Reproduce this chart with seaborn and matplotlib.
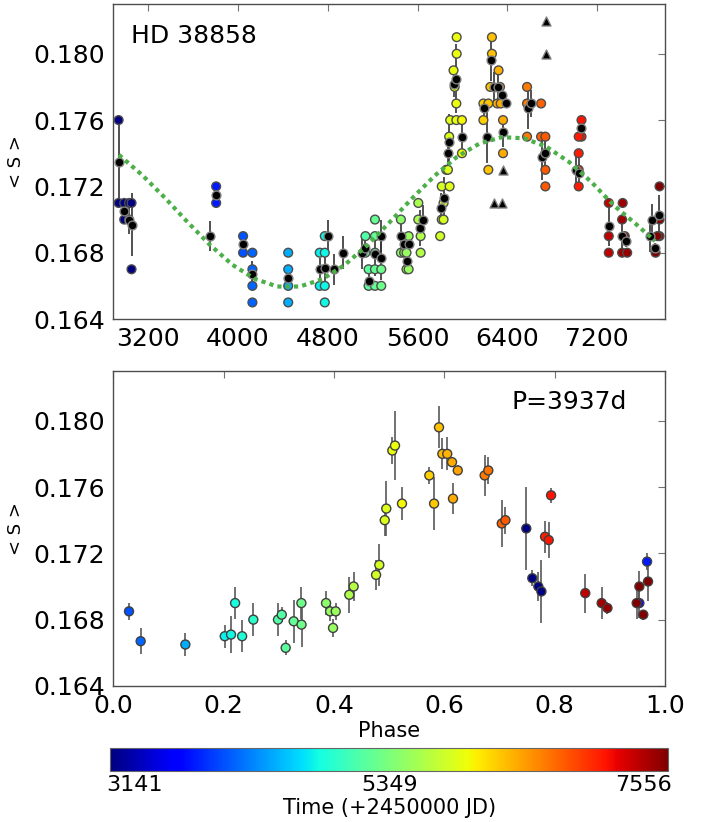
import numpy as np
import pandas as pd
import matplotlib
matplotlib.use("Agg")
import matplotlib.pyplot as plt
import seaborn as sns
from matplotlib.colors import Normalize
from matplotlib.cm import ScalarMappable

# ---- activity-cycle data for HD 38858 (time in JD - 2450000) ----
# nightly means with uncertainties
mean_t = [2943, 2986, 3029, 3051, 3750, 3805, 4045, 4128, 4447, 4728, 4773, 4802,
          4852, 4932, 5108, 5135, 5163, 5220, 5275, 5276, 5451, 5480, 5501, 5520,
          5617, 5648, 5808, 5831, 5870, 5881, 5924, 5943, 5993, 6188, 6222, 6257,
          6281, 6316, 6350, 6357, 6391, 6583, 6609, 6705, 6731, 7014, 7040, 7057,
          7301, 7418, 7459, 7668, 7687, 7715, 7749]
mean_s = [0.1735, 0.1705, 0.1700, 0.1697, 0.1690, 0.1715, 0.1685, 0.1667, 0.1665,
          0.1670, 0.1671, 0.1690, 0.1670, 0.1680, 0.1680, 0.1683, 0.1663, 0.1679,
          0.1690, 0.1677, 0.1690, 0.1685, 0.1675, 0.1685, 0.1695, 0.1700, 0.1707,
          0.1713, 0.1740, 0.1747, 0.1782, 0.1785, 0.1750, 0.1767, 0.1750, 0.1796,
          0.1780, 0.1780, 0.1775, 0.1753, 0.1770, 0.1767, 0.1770, 0.1738, 0.1740,
          0.1730, 0.1728, 0.1755, 0.1696, 0.1690, 0.1687, 0.1690, 0.1700, 0.1683,
          0.1703]
mean_err = [0.0025, 0.0005, 0.0009, 0.0019, 0.0009, 0.0005, 0.0005, 0.0008, 0.0007,
            0.0007, 0.0011, 0.00095, 0.00095, 0.001, 0.001, 0.00045, 0.00045, 0.0013,
            0.00095, 0.00135, 0.00073, 0.0006, 0.00052, 0.0005, 0.0011, 0.0009,
            0.0009, 0.00125, 0.00095, 0.00165, 0.0008, 0.0021, 0.001, 0.0005, 0.0016,
            0.00126, 0.00093, 0.001, 0.0003, 0.00095, 0.0003, 0.00123, 0.0008,
            0.00142, 0.00082, 0.00095, 0.00108, 0.00046, 0.00117, 0.00098, 0.00035,
            0.00095, 0.00093, 0.0003, 0.0012]

# individual measurements
obs_t = [2936, 2936, 2986, 2986, 3029, 3029, 3051, 3051,
         3805, 3805,
         4045, 4045, 4128, 4128, 4128, 4128,
         4447, 4447, 4447, 4447,
         4728, 4728, 4773, 4773, 4773, 4773,
         5135, 5135, 5163, 5163, 5220, 5220, 5220, 5220, 5220, 5276, 5276,
         5451, 5451, 5480, 5501, 5501, 5520, 5520, 5606, 5606, 5627, 5627,
         5801, 5815, 5831, 5831, 5815, 5885, 5855, 5870, 5881, 5890, 5945, 5995,
         5995, 5945, 5930, 5920, 5948, 5948,
         6186, 6186, 6230, 6230, 6262, 6262, 6248, 6321, 6334, 6310, 6340, 6361, 6361,
         6575, 6575, 6575, 6700, 6700, 6738, 6738, 6738, 6738,
         7060, 7060, 7035, 7035, 7035, 7035,
         7303, 7303, 7303, 7427, 7422, 7445, 7422, 7467,
         7755, 7755, 7755, 7735, 7720]
obs_s = [0.176, 0.171, 0.171, 0.170, 0.171, 0.170, 0.171, 0.167,
         0.172, 0.171,
         0.169, 0.168, 0.168, 0.167, 0.166, 0.165,
         0.168, 0.167, 0.166, 0.165,
         0.168, 0.166, 0.169, 0.168, 0.166, 0.165,
         0.169, 0.168, 0.167, 0.166, 0.170, 0.169, 0.168, 0.167, 0.166, 0.167, 0.166,
         0.170, 0.168, 0.168, 0.168, 0.167, 0.169, 0.167, 0.171, 0.170, 0.169, 0.168,
         0.169, 0.170, 0.170, 0.171, 0.172, 0.172, 0.173, 0.173, 0.175, 0.176, 0.176, 0.176,
         0.174, 0.177, 0.178, 0.179, 0.180, 0.181,
         0.177, 0.176, 0.177, 0.173, 0.181, 0.180, 0.178, 0.179, 0.178, 0.177, 0.177, 0.176, 0.174,
         0.178, 0.177, 0.175, 0.177, 0.175, 0.175, 0.174, 0.173, 0.172,
         0.176, 0.175, 0.175, 0.174, 0.173, 0.172,
         0.171, 0.169, 0.168, 0.171, 0.170, 0.169, 0.168, 0.168,
         0.172, 0.170, 0.169, 0.169, 0.168]

# rejected points
rej_t = [6278, 6353, 6361, 6744, 6744]
rej_s = [0.171, 0.171, 0.173, 0.182, 0.180]

# sinusoidal cycle fit
fit_t = [2939, 3150, 3350, 3550, 3750, 3950, 4150, 4350, 4550, 4750, 4950, 5150,
         5350, 5550, 5750, 5950, 6150, 6350, 6550, 6750, 6950, 7150, 7350, 7550, 7715]
fit_s = [0.17390, 0.17266, 0.17130, 0.16985, 0.16847, 0.16727, 0.16642, 0.16596,
         0.16596, 0.16640, 0.16726, 0.16844, 0.16983, 0.17127, 0.17263, 0.17378,
         0.17458, 0.17497, 0.17490, 0.17438, 0.17347, 0.17225, 0.17084, 0.16970,
         0.16870]

PERIOD = 3937
T0 = 3933
T_MIN, T_MID, T_MAX = 3141, 5349, 7556

means = pd.DataFrame({"t": mean_t, "s": mean_s, "err": mean_err})
means["phase"] = ((means["t"] - T0) / PERIOD) % 1.0
obs = pd.DataFrame({"t": obs_t, "s": obs_s})
rej = pd.DataFrame({"t": rej_t, "s": rej_s})
fit = pd.DataFrame({"t": fit_t, "s": fit_s})

sns.set_style("white")
plt.rcParams["font.family"] = ["DejaVu Sans"]
plt.rcParams["text.color"] = "black"
plt.rcParams["axes.labelcolor"] = "black"

jet = matplotlib.colormaps["jet"]
norm = Normalize(vmin=T_MIN, vmax=T_MAX)

fig = plt.figure(figsize=(7.07, 8.22), dpi=100)
ax1 = fig.add_axes([0.1603, 0.6119, 0.7803, 0.3832])
ax2 = fig.add_axes([0.1603, 0.1655, 0.7803, 0.3832])
cax = fig.add_axes([0.1556, 0.0620, 0.7897, 0.0284])

# ---- time series ----
ax1.errorbar(means["t"], means["s"], yerr=means["err"], fmt="none",
             ecolor="0.2", elinewidth=1.2, zorder=2)
sns.scatterplot(data=obs, x="t", y="s", hue="t", palette=jet,
                hue_norm=norm, legend=False, s=40,
                edgecolor="0.3", linewidth=1.0, zorder=3, ax=ax1)
sns.scatterplot(data=means, x="t", y="s", color="black", s=40,
                edgecolor="0.5", linewidth=1.0, zorder=4, ax=ax1)
sns.scatterplot(data=rej, x="t", y="s", color="black", marker="^", s=42,
                edgecolor="0.5", linewidth=1.0, zorder=4, ax=ax1)
sns.lineplot(data=fit, x="t", y="s", color="#4daf4a", linewidth=3.0,
             zorder=5, ax=ax1)
ax1.lines[-1].set_dashes((1.0, 1.0))

ax1.set_xlim(2889, 7804)
ax1.set_ylim(0.164, 0.183)
ax1.set_xticks([3200, 4000, 4800, 5600, 6400, 7200])
ax1.text(0.0315, 0.90, "HD 38858", transform=ax1.transAxes, fontsize=18,
         ha="left", va="center")

# ---- phase-folded ----
ax2.errorbar(means["phase"], means["s"], yerr=means["err"], fmt="none",
             ecolor="0.35", elinewidth=1.2, zorder=2)
sns.scatterplot(data=means, x="phase", y="s", hue="t", palette=jet,
                hue_norm=norm, legend=False, s=42,
                edgecolor="0.25", linewidth=1.0, zorder=3, ax=ax2)
ax2.set_xlim(0.0, 1.0)
ax2.set_ylim(0.164, 0.183)
ax2.set_xticks([0.0, 0.2, 0.4, 0.6, 0.8, 1.0])
ax2.text(0.722, 0.90, "P=%dd" % PERIOD, transform=ax2.transAxes, fontsize=18,
         ha="left", va="center")

for ax in (ax1, ax2):
    ax.set_yticks([0.164, 0.168, 0.172, 0.176, 0.180])
    ax.yaxis.set_major_formatter(matplotlib.ticker.FormatStrFormatter("%.3f"))
    ax.tick_params(direction="in", length=5, width=0.8, color="0.45",
                   labelcolor="black", labelsize=18, top=True, right=True, pad=6)
    for sp in ax.spines.values():
        sp.set_color("0.3")
        sp.set_linewidth(1.0)
    ax.set_ylabel("< S >", fontsize=13, labelpad=6)
ax1.set_xlabel("")
ax2.set_xlabel("Phase", fontsize=15, labelpad=2)

# ---- colour bar ----
sm = ScalarMappable(norm=norm, cmap=jet)
cb = fig.colorbar(sm, cax=cax, orientation="horizontal",
                  ticks=[T_MIN, T_MID, T_MAX])
cb.ax.set_xticklabels([str(T_MIN), str(T_MID), str(T_MAX)])
cb.ax.tick_params(labelsize=16, length=3, direction="in", color="0.5",
                  labelcolor="black", pad=3)
tl = cb.ax.get_xticklabels()
tl[0].set_horizontalalignment("left")
tl[2].set_horizontalalignment("right")
for lab, dx in ((tl[0], -4), (tl[2], 4)):
    lab.set_transform(lab.get_transform() +
                      matplotlib.transforms.ScaledTranslation(dx / 100, 0, fig.dpi_scale_trans))
cb.outline.set_edgecolor("0.4")
cb.set_label("Time (+2450000 JD)", fontsize=15, labelpad=2)

fig.savefig("out.png", dpi=100)
